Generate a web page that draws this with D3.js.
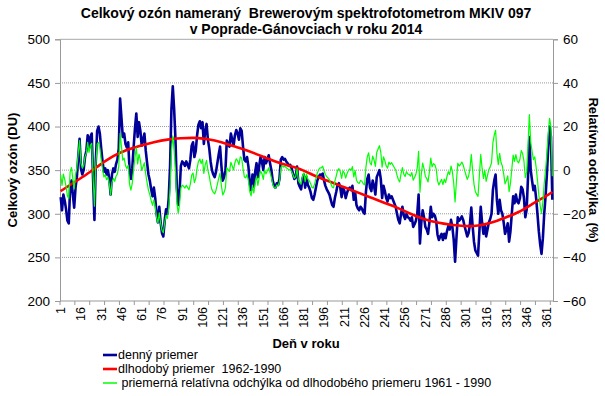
<!DOCTYPE html>
<html><head><meta charset="utf-8">
<script src="https://cdn.jsdelivr.net/npm/d3@7"></script>
<style>
body{margin:0;background:#fff}
svg{display:block;font-family:"Liberation Sans",Arial,sans-serif}
text{white-space:pre}
</style></head>
<body><svg id="c" width="605" height="396"></svg>
<script>
// daily total ozone (DU), days 1..365
const dailyOzone = [
319,304,322,315,305,292,289,330,338,322,
307,330,342,365,386,352,345,350,365,372,
390,375,388,392,340,293,360,395,400,392,
375,360,348,352,345,350,340,322,345,352,
348,357,362,375,432,410,388,392,380,376,
382,350,340,352,376,398,415,388,405,395,
378,385,392,372,358,345,338,328,320,330,
318,300,290,308,290,278,274,292,305,300,
318,355,420,446,420,385,330,310,325,355,
360,358,355,360,356,352,362,378,382,365,
372,390,402,406,398,405,380,395,403,385,
375,360,350,345,342,348,358,368,377,355,
338,342,350,384,380,377,392,385,378,390,
396,392,385,398,395,377,362,360,365,354,
335,327,345,331,348,358,342,355,365,360,
350,365,358,362,367,358,350,338,332,330,
335,333,340,362,365,362,363,360,358,355,
356,352,346,340,342,354,335,331,328,340,
345,330,342,333,330,325,318,316,322,330,
338,342,345,344,346,338,332,328,325,322,
316,310,308,318,325,333,335,330,319,330,
326,318,324,328,330,327,332,316,325,310,
306,304,308,306,302,300,325,340,345,330,
326,338,332,322,342,346,350,340,318,332,
326,318,314,322,318,320,316,312,308,300,
293,289,300,308,298,294,300,296,295,292,
296,285,288,292,300,322,266,290,304,296,
285,282,277,290,308,296,300,298,292,276,
270,274,277,270,277,272,280,286,282,293,
285,270,245,272,296,292,294,297,293,286,
280,274,278,288,307,286,268,258,255,252,
280,308,290,277,288,274,282,290,294,300,
327,338,345,315,300,316,304,300,290,277,
282,289,268,280,300,320,312,322,314,312,
318,331,328,318,296,305,342,388,350,338,
327,332,318,300,280,265,254,272,300,320,
346,377,400,388,316];

// long-term mean 1962-1990 (DU)
const longTermDays = [1,10,20,30,40,50,60,70,80,90,100,110,120,130,140,150,160,170,180,190,200,210,220,230,240,250,260,270,280,290,300,310,320,330,340,350,360,365];
const longTermMean = [326,335,345,356,366,373,378,382,385,386.5,387,385.5,382,377,372,366,360,355,350,343,337,331,325,319,313,307,300,294,290,287.5,286,286.5,290,295.5,302,311,320,325];

// relative deviation (%), days 1..365
const relDeviation = [
-2.1,-7.0,-1.8,-4.3,-7.6,-11.8,-13.0,-0.9,1.2,-3.9,
-8.6,-2.1,1.2,7.7,13.5,3.2,0.9,2.0,6.1,7.8,
12.7,8.1,11.5,12.3,-2.9,-16.5,2.3,11.9,12.7,10.1,
5.0,0.6,-3.1,-2.2,-4.4,-3.3,-6.3,-11.5,-5.5,-3.8,
-5.1,-2.8,-1.7,1.7,16.9,10.8,4.6,5.5,2.1,0.8,
2.3,-6.4,-9.2,-6.1,0.1,5.9,10.2,2.9,7.3,4.5,
-0.1,1.6,3.4,-2.0,-5.8,-9.3,-11.2,-14.0,-16.1,-13.6,
-16.8,-21.6,-24.3,-19.6,-24.4,-27.6,-28.7,-24.0,-20.7,-22.1,
-17.4,-7.9,9.0,15.7,8.9,-0.2,-14.5,-19.7,-15.9,-8.2,
-6.9,-7.4,-8.2,-6.9,-8.0,-9.0,-6.4,-2.3,-1.3,-5.7,
-3.8,0.9,4.0,5.1,3.0,4.9,-1.5,2.4,4.5,-0.1,
-2.6,-6.4,-9.0,-10.2,-10.9,-9.2,-6.5,-3.8,-1.4,-7.1,
-11.4,-10.2,-8.0,1.1,0.1,-0.5,3.6,1.9,0.1,3.4,
5.2,4.3,2.5,6.1,5.5,0.8,-3.1,-3.5,-2.0,-4.8,
-9.8,-11.8,-6.8,-10.4,-5.7,-2.8,-7.0,-3.3,-0.4,-1.6,
-4.2,0.1,-1.7,-0.4,1.1,-1.2,-3.3,-6.4,-7.9,-8.3,
-6.8,-7.2,-5.2,1.1,2.1,1.4,1.8,1.1,0.7,0.0,
0.4,-0.6,-2.1,-3.7,-3.0,0.6,-4.7,-5.7,-6.4,-2.9,
-1.2,-5.3,-1.7,-4.1,-4.8,-6.0,-7.9,-8.2,-6.3,-3.8,
-1.3,0.1,1.1,1.0,1.8,-0.4,-2.0,-3.0,-3.7,-4.5,
-6.1,-7.7,-8.1,-5.0,-2.7,-0.1,0.7,-0.7,-3.8,-0.3,
-1.3,-3.6,-1.6,-0.2,0.6,-0.1,1.6,-3.1,-0.2,-4.6,
-5.7,-6.1,-4.7,-5.1,-6.2,-6.7,1.3,6.2,7.9,3.4,
2.4,6.4,4.7,1.7,8.2,9.7,11.2,8.2,1.4,6.1,
4.4,2.0,0.9,3.7,2.6,3.4,2.3,1.2,0.1,-2.3,
-4.3,-5.4,-1.6,1.2,-1.8,-2.9,-0.7,-1.8,-1.9,-2.7,
-1.1,-4.6,-3.4,-1.9,1.0,8.6,-10.1,-1.8,3.2,0.7,
-2.9,-3.8,-5.4,-0.8,5.5,1.5,3.0,2.5,0.6,-4.8,
-6.8,-5.4,-4.2,-6.6,-4.1,-5.7,-2.9,-0.7,-2.0,1.9,
-0.8,-6.0,-14.6,-5.2,3.2,1.9,2.6,3.7,2.4,0.0,
-2.1,-4.2,-2.8,0.6,7.2,-0.1,-6.4,-9.9,-11.0,-12.0,
-2.4,7.2,0.9,-3.8,-0.1,-5.1,-2.4,0.2,1.5,3.4,
12.5,16.1,18.3,7.8,2.5,7.7,3.5,1.9,-1.7,-6.3,
-4.8,-2.6,-9.9,-6.1,0.4,6.9,4.0,7.1,4.2,3.3,
5.0,9.0,7.6,4.1,-3.4,-0.8,10.9,25.5,12.9,8.7,
4.8,6.1,1.4,-4.6,-11.3,-16.2,-19.9,-14.5,-6.0,0.0,
7.8,17.1,23.8,19.8,-2.8];

const xTickLabels = ["1","16","31","46","61","76","91","106","121","136","151","166","181","196","211","226","241","256","271","286","301","316","331","346","361"];
const leftTicks = [200,250,300,350,400,450,500];
const rightTicks = [-60,-40,-20,0,20,40,60];
const titleLines = ["Celkový ozón nameraný  Brewerovým spektrofotometrom MKIV 097","v Poprade-Gánovciach v roku 2014"];
const legendLabels = ["denný priemer","dlhodobý priemer  1962-1990"," priemerná relatívna odchýlka od dlhodobého priemeru 1961 - 1990"];
const colors = ["#000099","#ff0000","#00ff00"];

const L=60, R=553, T=39.3, B=301;
const svg = d3.select("#c");
const x = d3.scaleLinear().domain([0.5,365.5]).range([L,R]);
const yL = d3.scaleLinear().domain([200,500]).range([B,T]);
const yR = d3.scaleLinear().domain([-60,60]).range([B,T]);
const days = d3.range(1,366);

// gridlines
svg.append("g").selectAll("line").data(leftTicks.filter(v=>v>200&&v<500)).join("line")
  .attr("x1",L).attr("x2",R).attr("y1",d=>yL(d)).attr("y2",d=>yL(d))
  .attr("stroke","#9a9a9a").attr("stroke-width",1).attr("stroke-dasharray","1,1");
svg.append("line").attr("x1",L).attr("x2",R).attr("y1",yL(500)).attr("y2",yL(500)).attr("stroke","#a8a8a8");

// axes
const axL = svg.append("g").attr("transform",`translate(${L},0)`).call(d3.axisLeft(yL).tickValues(leftTicks).tickSize(5).tickPadding(5));
const axR = svg.append("g").attr("transform",`translate(${R},0)`).call(d3.axisRight(yR).tickValues(rightTicks).tickSize(5).tickPadding(5));
[axL,axR].forEach(a=>{
  a.select(".domain").attr("stroke","#999");
  a.selectAll(".tick line").attr("stroke","#999");
  a.selectAll("text").attr("font-size","13.5px").attr("font-family","Liberation Sans, Arial, sans-serif").attr("fill","#000");
});
// x axis
const tickPos = d3.range(0,34).map(k=>0.5+k*11);
svg.append("line").attr("x1",L).attr("x2",R).attr("y1",B).attr("y2",B).attr("stroke","#999");
svg.append("g").selectAll("line").data(tickPos).join("line")
  .attr("x1",d=>x(d)).attr("x2",d=>x(d)).attr("y1",B).attr("y2",B+4).attr("stroke","#999");
svg.append("g").selectAll("text").data(xTickLabels).join("text")
  .attr("transform",d=>`translate(${x(+d)},${B+6}) rotate(-90)`)
  .attr("text-anchor","end").attr("dy","0.35em").attr("font-size","12.5px").text(d=>d);

// lines
const lineBlue = d3.line().x((d,i)=>x(days[i])).y(d=>yL(d));
svg.append("path").datum(dailyOzone).attr("d",lineBlue).attr("fill","none")
  .attr("stroke",colors[0]).attr("stroke-width",2.6).attr("stroke-linejoin","round");
const lineRed = d3.line().x((d,i)=>x(longTermDays[i])).y(d=>yL(d)).curve(d3.curveNatural);
svg.append("path").datum(longTermMean).attr("d",lineRed).attr("fill","none")
  .attr("stroke",colors[1]).attr("stroke-width",2.6);
const lineGreen = d3.line().x((d,i)=>x(days[i])).y(d=>yR(d));
svg.append("path").datum(relDeviation).attr("d",lineGreen).attr("fill","none")
  .attr("stroke",colors[2]).attr("stroke-width",1.2).attr("stroke-linejoin","round");

// titles
svg.append("g").selectAll("text").data(titleLines).join("text")
  .attr("x",306).attr("y",(d,i)=>18+i*16).attr("text-anchor","middle")
  .attr("font-size","14px").attr("font-weight","bold").text(d=>d);
svg.append("text").attr("x",306).attr("y",348).attr("text-anchor","middle")
  .attr("font-size","13px").attr("font-weight","bold").text("Deň v roku");
svg.append("text").attr("transform","translate(12,170) rotate(-90)").attr("text-anchor","middle")
  .attr("dy","0.35em").attr("font-size","13px").attr("font-weight","bold").text("Celkový ozón (DU)");
svg.append("text").attr("transform","translate(594,170) rotate(90)").attr("text-anchor","middle")
  .attr("dy","0.35em").attr("font-size","13px").attr("font-weight","bold").text("Relatívna odchýlka  (%)");

// legend
const lg = svg.append("g").selectAll("g").data(legendLabels).join("g")
  .attr("transform",(d,i)=>`translate(103,${355+i*14})`);
lg.append("line").attr("x1",0).attr("x2",14).attr("stroke",(d,i)=>colors[i]).attr("stroke-width",(d,i)=>i<2?2.6:1.5);
lg.append("text").attr("x",15).attr("dy","0.35em").attr("font-size","12.5px").text(d=>d);
</script>
</body></html>
